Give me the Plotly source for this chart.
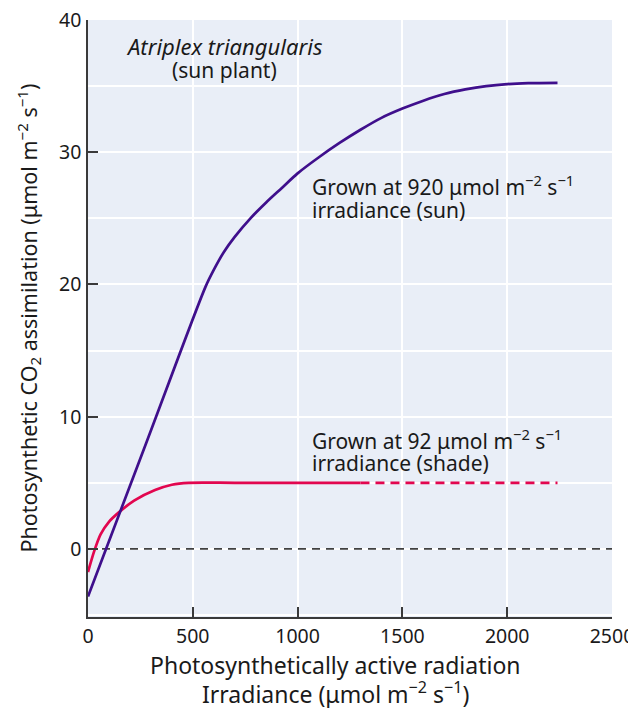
import plotly.graph_objects as go

# Sun-grown plant (920 µmol m-2 s-1)
sun_x = [0, 280, 560, 600, 650, 700, 775, 850, 925, 1000, 1100, 1200, 1300, 1400, 1500,
         1600, 1700, 1800, 1900, 2000, 2100, 2240]
sun_y = [-3.6, 8.1, 19.8, 21.1, 22.5, 23.6, 25.0, 26.2, 27.3, 28.4, 29.6, 30.7, 31.7, 32.6,
         33.3, 33.9, 34.4, 34.75, 35.0, 35.15, 35.22, 35.25]

# Shade-grown plant (92 µmol m-2 s-1), measured part
shade_x = [0, 30, 60, 100, 150, 220, 320, 400, 480, 700, 1000, 1300]
shade_y = [-1.75, -0.15, 1.1, 2.05, 2.8, 3.65, 4.45, 4.85, 5.0, 5.0, 5.0, 5.0]
# extrapolated part (dashed)
shade_ext_x = [1300, 2240]
shade_ext_y = [5.0, 5.0]

zero_x = [0, 2500]
zero_y = [0, 0]

x_ticks = [0, 500, 1000, 1500, 2000, 2500]
y_ticks = [0, 10, 20, 30, 40]

SUN = "#3f0f8c"
SHADE = "#e2064f"
FONT = "Noto Sans"

fig = go.Figure()
fig.add_trace(go.Scatter(x=zero_x, y=zero_y, mode="lines",
                         line=dict(color="#404040", width=1.8, dash="8px,6px"),
                         hoverinfo="skip", showlegend=False))
fig.add_trace(go.Scatter(x=shade_x, y=shade_y, mode="lines",
                         line=dict(color=SHADE, width=2.7, shape="spline", smoothing=0.8),
                         showlegend=False))
fig.add_trace(go.Scatter(x=shade_ext_x, y=shade_ext_y, mode="lines",
                         line=dict(color=SHADE, width=2.7, dash="9px,6px"),
                         showlegend=False))
fig.add_trace(go.Scatter(x=sun_x, y=sun_y, mode="lines",
                         line=dict(color=SUN, width=2.7, shape="spline", smoothing=0.8),
                         showlegend=False))

ann_font = dict(family=FONT, size=21, color="#1a1a1a")
xtitle_font = dict(family=FONT, size=23, color="#1a1a1a")
ytitle_font = dict(family=FONT, size=21.5, color="#1a1a1a")
annotations = [
    dict(x=649, y=38.0, text="<i>Atriplex triangularis</i>", xref="x", yref="y",
         showarrow=False, xanchor="center", yanchor="middle",
         font=dict(family=FONT, size=22, color="#1a1a1a")),
    dict(x=649, y=36.2, text="(sun plant)", xref="x", yref="y",
         showarrow=False, xanchor="center", yanchor="middle", font=ann_font),
    dict(x=1057, y=27.5, text="Grown at 920 μmol m<sup>−2</sup> s<sup>−1</sup>", xref="x", yref="y",
         showarrow=False, xanchor="left", yanchor="middle", font=ann_font),
    dict(x=1057, y=25.6, text="irradiance (sun)", xref="x", yref="y",
         showarrow=False, xanchor="left", yanchor="middle", font=ann_font),
    dict(x=1057, y=8.25, text="Grown at 92 μmol m<sup>−2</sup> s<sup>−1</sup>", xref="x", yref="y",
         showarrow=False, xanchor="left", yanchor="middle", font=ann_font),
    dict(x=1057, y=6.5, text="irradiance (shade)", xref="x", yref="y",
         showarrow=False, xanchor="left", yanchor="middle", font=ann_font),
    dict(x=0.473, y=-0.0804, text="Photosynthetically active radiation", xref="paper", yref="paper",
         showarrow=False, xanchor="center", yanchor="middle", font=xtitle_font),
    dict(x=0.473, y=-0.1273, text="Irradiance (μmol m<sup>−2</sup> s<sup>−1</sup>)", xref="paper", yref="paper",
         showarrow=False, xanchor="center", yanchor="middle", font=xtitle_font),
    dict(x=-0.1145, y=0.5, text="Photosynthetic CO<sub>2</sub> assimilation (μmol m<sup>−2</sup> s<sup>−1</sup>)",
         xref="paper", yref="paper", textangle=-90,
         showarrow=False, xanchor="center", yanchor="middle", font=ytitle_font),
]

axis_common = dict(showline=True, linecolor="#3a3a3a", linewidth=1.5,
                   ticks="inside", ticklen=10, tickwidth=1.5, tickcolor="#3a3a3a",
                   tickfont=dict(family=FONT, size=19.5, color="#1a1a1a"),
                   gridcolor="white", gridwidth=1.5, zeroline=False, mirror=False,
                   automargin=False, ticklabeloverflow="allow")

# page body has an 8px default margin, so the figure is offset by 8px
fig.update_layout(
    width=628, height=700,
    margin=dict(l=80, r=24, t=12, b=91),
    paper_bgcolor="white", plot_bgcolor="#e9eef7",
    font=dict(family=FONT, size=20, color="#1a1a1a"),
    xaxis=dict(range=[0, 2500], tickvals=x_ticks, ticklabelstandoff=1, **axis_common),
    yaxis=dict(range=[-5.15, 40], tickvals=y_ticks,
               minor=dict(dtick=5, tick0=0, showgrid=True, gridcolor="white", gridwidth=1.5, ticks=""),
               ticklabelstandoff=1, **axis_common),
    annotations=annotations,
)

fig.write_html("out.html")
